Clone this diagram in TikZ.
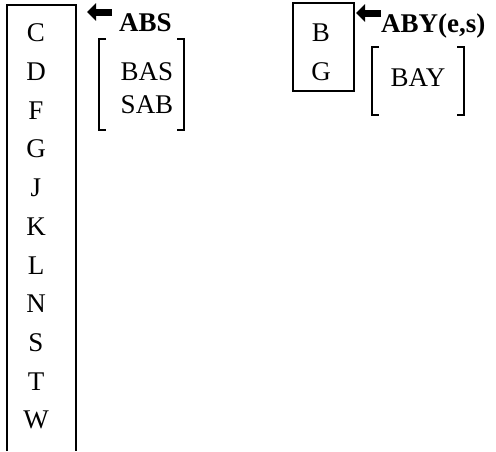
\documentclass[tikz,border=0pt]{standalone}
\usepackage{fontspec}
\setmainfont{Liberation Serif}
\usetikzlibrary{arrows.meta}
\tikzset{
  letter/.style={inner sep=0pt,font=\fontsize{27}{30}\selectfont},
  tag/.style={inner sep=0pt,font=\fontsize{27}{30}\selectfont\bfseries},
  bigarrow/.style={line width=7pt,-{Triangle[length=9pt,width=17pt]}},
  frame/.style={line width=1.2pt}
}

\begin{document}
\begin{tikzpicture}[x=1pt,y=-1pt]
  \useasboundingbox (0,0) rectangle (496,451);

  % long column, open at the bottom
  \draw[frame] (7,451) -- (7,5) -- (76,5) -- (76,451);
  \foreach \l [count=\i from 0] in {C,D,F,G,J,K,L,N,S,T,W}
    \node[letter] (col-\l) at (36,33+38.7*\i) {\l};

  % ABS and its bracket
  \coordinate (abs-tail) at (112,12);
  \coordinate (abs-tip) at (87,12);
  \draw[bigarrow] (abs-tail) -- (abs-tip);
  \node[tag,anchor=base west] (abs) at (119,31) {ABS};
  \draw[frame] (106,39) -- (99,39) -- (99,130) -- (106,130);
  \draw[frame] (177,39) -- (184,39) -- (184,130) -- (177,130);
  \node[letter] (bas) at (147,72) {BAS};
  \node[letter] (sab) at (147,105) {SAB};

  % small box
  \draw[frame] (293,3) rectangle (354,91);
  \node[letter] (box-B) at (321,33) {B};
  \node[letter] (box-G) at (321,72) {G};

  % ABY(e,s) and its bracket
  \coordinate (aby-tail) at (381,13);
  \coordinate (aby-tip) at (356,13);
  \draw[bigarrow] (aby-tail) -- (aby-tip);
  \node[tag,anchor=base west] (aby) at (381,32) {ABY(e,s)};
  \draw[frame] (379,47) -- (372,47) -- (372,115) -- (379,115);
  \draw[frame] (457,47) -- (464,47) -- (464,115) -- (457,115);
  \node[letter] (bay) at (418,78) {BAY};
\end{tikzpicture}
\end{document}
